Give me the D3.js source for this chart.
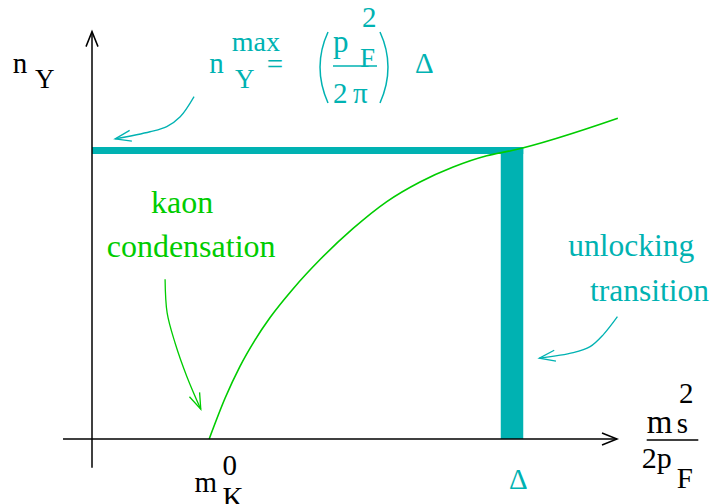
<!DOCTYPE html>
<html><head><meta charset="utf-8">
<script src="https://cdn.jsdelivr.net/npm/d3@7"></script></head>
<body style="margin:0">
<svg id="chart" width="716" height="504" font-family="Liberation Serif"></svg>
<script>
// Hyperon density n_Y versus m_s^2 / 2p_F.
// x in units of the gap Δ, y in units of the plateau n_Y^max.
const curveX = [0.279, 0.317, 0.352, 0.388, 0.424, 0.479, 0.543, 0.621, 0.702, 0.781, 0.860, 0.940, 1.0, 1.252];
const curveY = [0, 0.142, 0.251, 0.343, 0.421, 0.521, 0.622, 0.729, 0.823, 0.891, 0.943, 0.982, 1.0, 1.112];
const gapDelta = 1.0;    // unlocking transition at m_s^2/2p_F = Δ
const nYMax = 1.0;       // n_Y^max plateau
const kaonOnset = 0.279; // m_K^0

// Annotation arrows (data units), drawn from tail to head
const arrowNMax = [[0.243, 1.187], [0.210, 1.117], [0.178, 1.083], [0.138, 1.065], [0.055, 1.040]];
const arrowUnlock = [[1.251, 0.424], [1.217, 0.361], [1.186, 0.320], [1.146, 0.299], [1.065, 0.280]];
const arrowKaon = [[0.174, 0.554], [0.179, 0.436], [0.198, 0.332], [0.226, 0.216], [0.259, 0.103]];

const TEAL = "#00b2b2";
const GREEN = "#00cc00";
const FS = 31;

const svg = d3.select("#chart");
const x = d3.scaleLinear().domain([0, 1]).range([92, 512]);
const y = d3.scaleLinear().domain([0, 1]).range([439, 150.5]);

const line = d3.line().x(d => x(d[0])).y(d => y(d[1]));

function chevron(g, tip, from, len, half, color, width) {
  const dx = tip[0] - from[0], dy = tip[1] - from[1];
  const l = Math.hypot(dx, dy), ux = dx / l, uy = dy / l;
  const bx = tip[0] - ux * len, by = tip[1] - uy * len;
  const p1 = [bx - uy * half, by + ux * half];
  const p2 = [bx + uy * half, by - ux * half];
  g.append("path")
    .attr("d", `M${p1[0]},${p1[1]}L${tip[0]},${tip[1]}L${p2[0]},${p2[1]}`)
    .attr("fill", "none").attr("stroke", color).attr("stroke-width", width);
}

function txt(px, py, s, color, size) {
  return svg.append("text").attr("x", px).attr("y", py)
    .attr("font-size", size || FS)
    .attr("font-family", "Liberation Serif")
    .attr("fill", color).text(s);
}

// Bars: plateau and unlocking jump
const barHalf = 11.25, plateauHalf = 3.5;
svg.append("rect")
  .attr("x", x(0)).attr("y", y(nYMax) - plateauHalf)
  .attr("width", x(gapDelta) + barHalf - x(0)).attr("height", plateauHalf * 2)
  .attr("fill", TEAL);
svg.append("rect")
  .attr("x", x(gapDelta) - barHalf).attr("y", y(nYMax) - plateauHalf)
  .attr("width", barHalf * 2).attr("height", y(0) - (y(nYMax) - plateauHalf))
  .attr("fill", TEAL);

// Kaon-condensed curve
svg.append("path")
  .datum(curveX.map((v, i) => [v, curveY[i]]))
  .attr("d", line.curve(d3.curveMonotoneX))
  .attr("fill", "none").attr("stroke", GREEN).attr("stroke-width", 1.6);

// Axes
const axes = svg.append("g");
const xEnd = [x(1.25), y(0)], yEnd = [x(0), y(1.412)];
axes.append("line").attr("x1", x(-0.069)).attr("x2", xEnd[0])
  .attr("y1", y(0)).attr("y2", y(0)).attr("stroke", "#000").attr("stroke-width", 1.5);
axes.append("line").attr("x1", x(0)).attr("x2", x(0))
  .attr("y1", y(-0.1)).attr("y2", yEnd[1]).attr("stroke", "#000").attr("stroke-width", 1.5);
chevron(axes, xEnd, [x(0), y(0)], 15, 6, "#000", 1.5);
chevron(axes, yEnd, [x(0), y(0)], 15, 6, "#000", 1.5);

// Annotation arrows
const ann = svg.append("g");
const annLine = d3.line().x(d => x(d[0])).y(d => y(d[1])).curve(d3.curveCatmullRom.alpha(0.5));
[[arrowNMax, TEAL], [arrowUnlock, TEAL], [arrowKaon, GREEN]].forEach(([pts, c]) => {
  ann.append("path").attr("d", annLine(pts)).attr("fill", "none")
    .attr("stroke", c).attr("stroke-width", 1.3);
  const n = pts.length;
  chevron(ann, [x(pts[n - 1][0]), y(pts[n - 1][1])], [x(pts[n - 2][0]), y(pts[n - 2][1])], 16, 5.5, c, 1.3);
});

// Axis titles
txt(12.7, 73, "n", "#000", 29);
txt(35, 88, "Y", "#000", 27);

const xt = xEnd[0] + 29.7, yt = y(0);
txt(xt, yt - 5.7, "m", "#000", 33);
txt(xt + 30, yt - 5.7, "s", "#000", 29);
txt(xt + 32.3, yt - 36, "2", "#000", 29);
svg.append("line").attr("x1", xt).attr("x2", xt + 51.6)
  .attr("y1", yt + 1).attr("y2", yt + 1).attr("stroke", "#000").attr("stroke-width", 1.5);
txt(xt - 5, yt + 29.3, "2p", "#000", 30);
txt(xt + 30, yt + 49.3, "F", "#000", 29);

// Tick labels on the x axis
txt(x(kaonOnset) - 14.6, y(0) + 52.7, "m", "#000", 29);
txt(x(kaonOnset) + 13.4, y(0) + 36, "0", "#000", 29);
txt(x(kaonOnset) + 13.4, y(0) + 67.7, "K", "#000", 29);
txt(x(gapDelta) - 3, y(0) + 50, "Δ", TEAL, 29);

// n_Y^max formula
const ax = x(0.2793), ay = y(1.2676);
txt(ax, ay, "n", TEAL, 29);
txt(ax + 25.7, ay + 15, "Y", TEAL, 27);
txt(ax + 22.4, ay - 22.6, "max", TEAL, 28);
txt(ax + 57.4, ay + 1, "=", TEAL, 29);
svg.append("path").attr("d", `M${ax + 118.7},${ay - 41.3}Q${ax + 102.7},${ay - 6.3} ${ax + 118.7},${ay + 29.7}`)
  .attr("fill", "none").attr("stroke", TEAL).attr("stroke-width", 1.5);
svg.append("path").attr("d", `M${ax + 170.7},${ay - 41.3}Q${ax + 186.7},${ay - 6.3} ${ax + 170.7},${ay + 29.7}`)
  .attr("fill", "none").attr("stroke", TEAL).attr("stroke-width", 1.5);
txt(ax + 123.7, ay - 21.6, "p", TEAL, 31);
txt(ax + 152.7, ay - 46.3, "2", TEAL, 29);
txt(ax + 150.7, ay - 6, "F", TEAL, 27);
svg.append("line").attr("x1", ax + 123.7).attr("x2", ax + 167.7)
  .attr("y1", ay - 7.3).attr("y2", ay - 7.3).attr("stroke", TEAL).attr("stroke-width", 1.5);
txt(ax + 123.7, ay + 29.4, "2", TEAL, 29);
txt(ax + 143.7, ay + 29.4, "π", TEAL, 29);
txt(ax + 205.7, ay, "Δ", TEAL, 29);

// Annotation text
txt(x(0.1405), y(0.7834), "kaon", GREEN, 32);
txt(x(0.035), y(0.6319), "condensation", GREEN, 32);
txt(x(1.134), y(0.6343), "unlocking", TEAL, 31.5);
txt(x(1.1857), y(0.4794), "transition", TEAL, 31.5);
</script>
</body>
</html>
